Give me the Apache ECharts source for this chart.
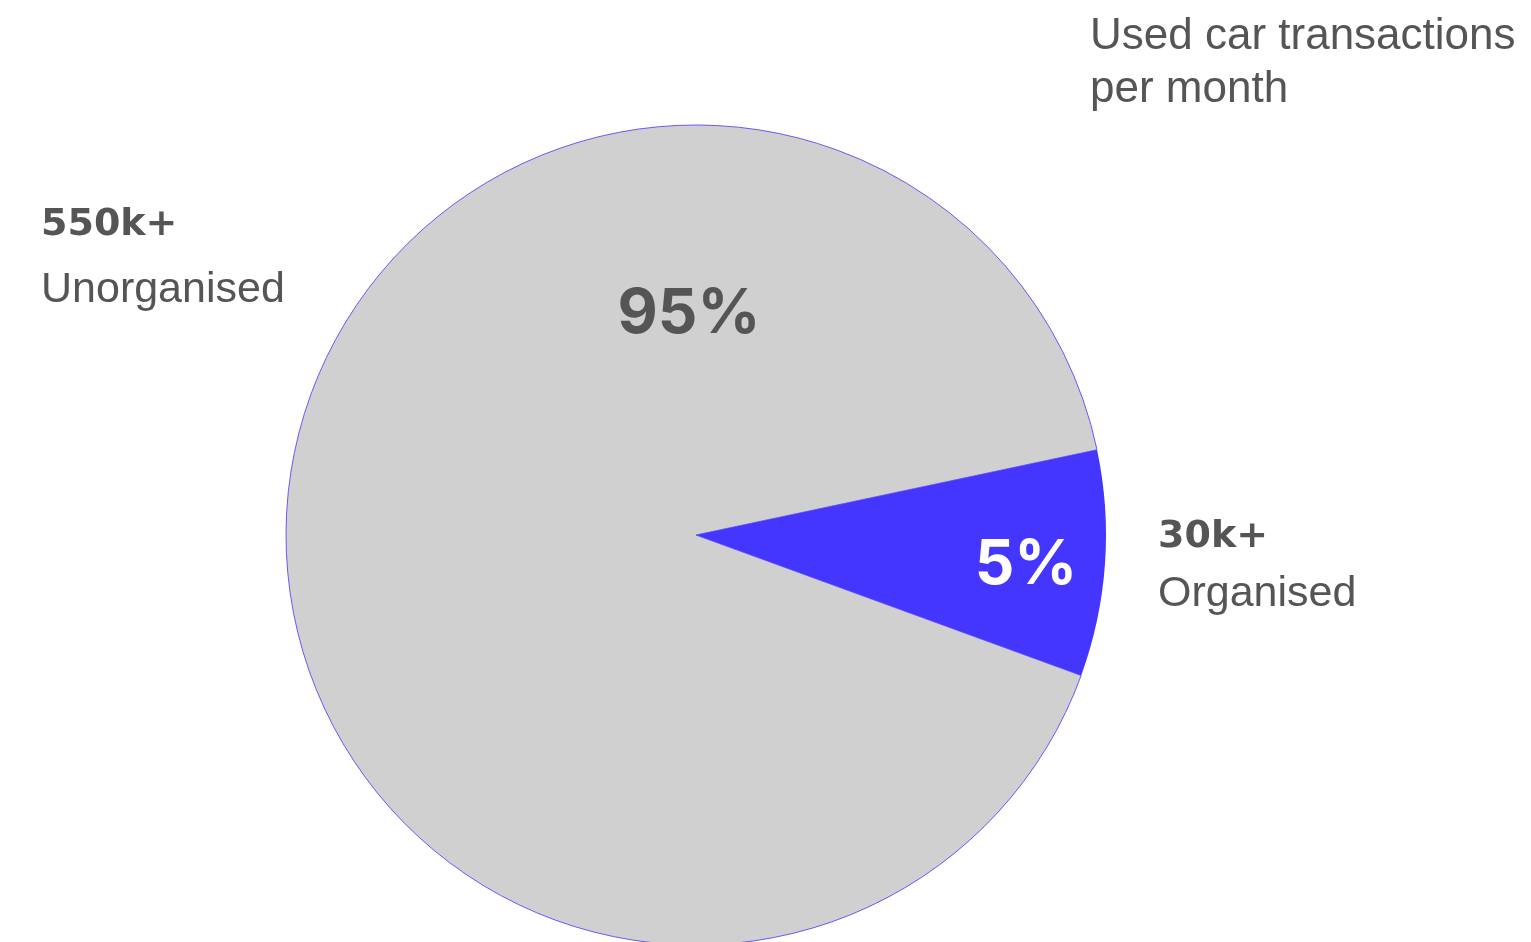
<!DOCTYPE html>
<html>
<head>
<meta charset="utf-8">
<script src="https://cdn.jsdelivr.net/npm/echarts@6/dist/echarts.min.js"></script>
<style>
html,body{margin:0;padding:0;background:#fff;}
#chart{width:1531px;height:942px;}
</style>
</head>
<body>
<div id="chart"></div>
<script>
// Data
const categories = ['Organised', 'Unorganised'];
const sliceShares = [8.9, 91.1];          // drawn slice proportions (as pictured)
const percentLabels = ['5%', '95%'];
const volumeLabels = ['30k+', '550k+'];
const titleLines = ['Used car transactions', 'per month'];

const REG = '"Liberation Sans", Arial, sans-serif';
const BOLDF = '"DejaVu Sans", sans-serif';
const PCTF = 'Inter, sans-serif';
const TXT = '#555555';
const BLUE = '#4536ff';
const GREY = '#d0d0d0';

const chart = echarts.init(document.getElementById('chart'), null, {renderer: 'canvas'});

function txt(x, y, text, font, fill, align) {
  return {
    type: 'text', x: x, y: y, z: 100, zlevel: 1,
    style: {
      text: text, fill: fill || TXT, font: font,
      textAlign: align || 'left', textVerticalAlign: 'middle'
    }
  };
}

chart.setOption({
  animation: false,
  backgroundColor: '#ffffff',
  series: [{
    type: 'pie',
    center: [696, 535],
    radius: [0, 410],
    startAngle: 12,
    clockwise: true,
    label: {show: false},
    labelLine: {show: false},
    emphasis: {disabled: true},
    data: categories.map((c, i) => ({
      name: c,
      value: sliceShares[i],
      itemStyle: i === 0
        ? {color: BLUE, borderWidth: 0}
        : {color: GREY, borderColor: BLUE, borderWidth: 0.8}
    }))
  }],
  graphic: [
    txt(1090, 37, titleLines[0], 'normal 44px ' + REG),
    txt(1090, 90, titleLines[1], 'normal 44px ' + REG),
    txt(41, 225, volumeLabels[1], 'bold 38px ' + BOLDF),
    txt(41, 290, categories[1], 'normal 43px ' + REG),
    txt(1158, 537, volumeLabels[0], 'bold 38px ' + BOLDF),
    txt(1158, 594, categories[0], 'normal 43px ' + REG),
    txt(689, 314, percentLabels[1], 'bold 62px ' + PCTF, TXT, 'center'),
    txt(1026, 565, percentLabels[0], 'bold 62px ' + PCTF, '#ffffff', 'center')
  ]
});
</script>
</body>
</html>
